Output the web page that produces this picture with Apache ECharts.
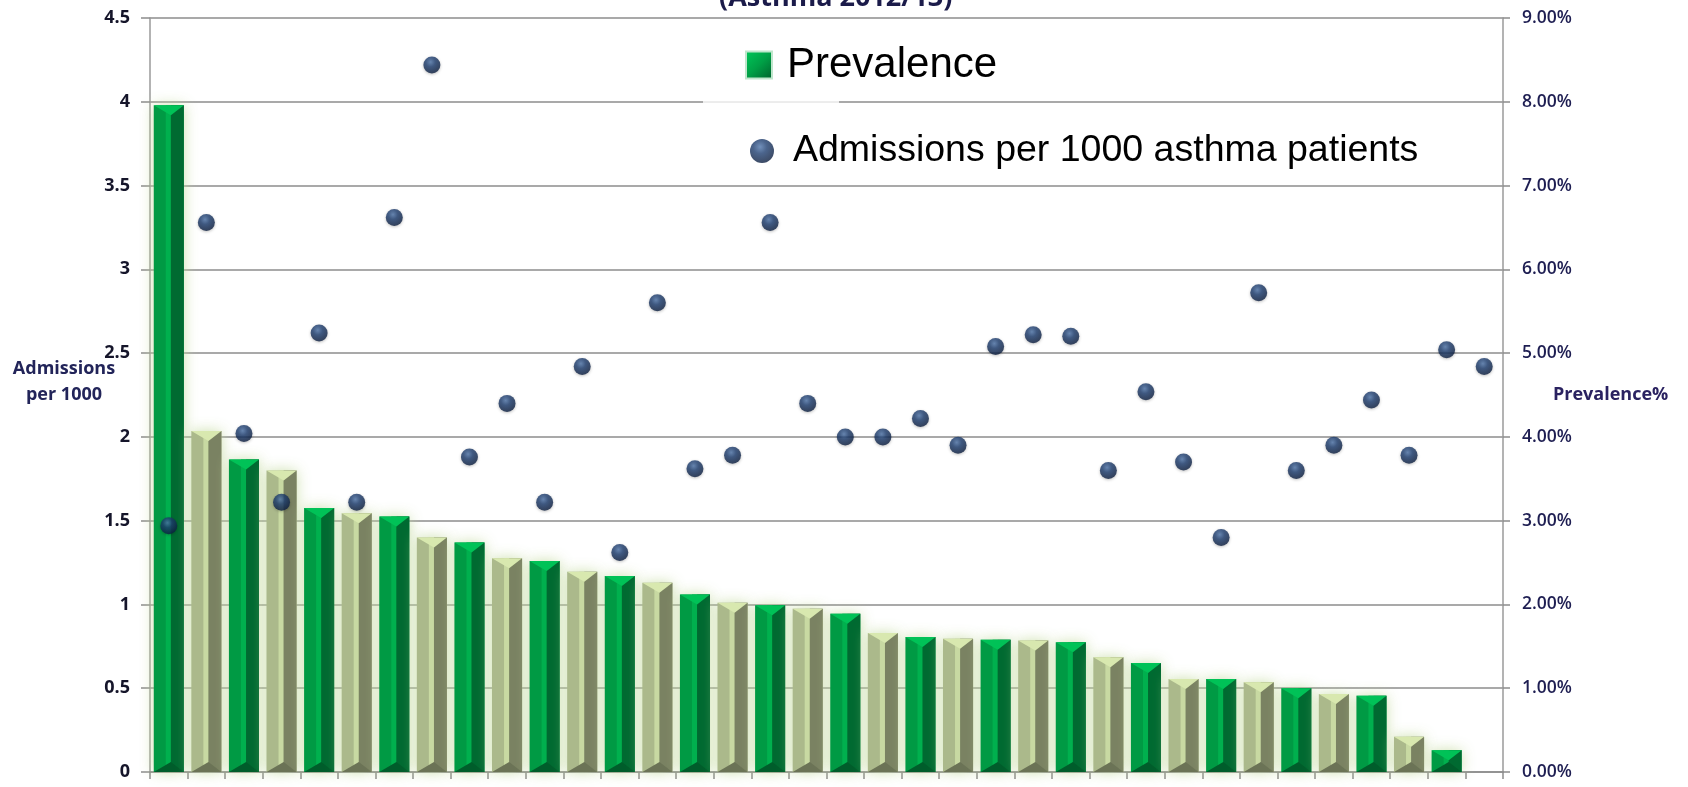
<!DOCTYPE html>
<html>
<head>
<meta charset="utf-8">
<title>Prevalence and admissions (Asthma 2012/13)</title>
<script src="https://cdn.jsdelivr.net/npm/echarts@6/dist/echarts.min.js"></script>
<style>
  html, body { margin: 0; padding: 0; background: #ffffff; }
  #chart { width: 1688px; height: 787px; }
</style>
</head>
<body>
<div id="chart"></div>
<script>
// Practices, ranked by asthma prevalence
const categories = [
  'Practice 1', 'Practice 2', 'Practice 3', 'Practice 4', 'Practice 5', 'Practice 6',
  'Practice 7', 'Practice 8', 'Practice 9', 'Practice 10', 'Practice 11', 'Practice 12',
  'Practice 13', 'Practice 14', 'Practice 15', 'Practice 16', 'Practice 17', 'Practice 18',
  'Practice 19', 'Practice 20', 'Practice 21', 'Practice 22', 'Practice 23', 'Practice 24',
  'Practice 25', 'Practice 26', 'Practice 27', 'Practice 28', 'Practice 29', 'Practice 30',
  'Practice 31', 'Practice 32', 'Practice 33', 'Practice 34', 'Practice 35', 'Practice 36'
];

// Asthma prevalence, % of list size (right axis)
const prevalence = [
  7.96, 4.07, 3.73, 3.60, 3.15, 3.09, 3.05, 2.80, 2.74, 2.55, 2.52, 2.39,
  2.34, 2.26, 2.12, 2.02, 1.99, 1.95, 1.89, 1.66, 1.61, 1.59, 1.58, 1.57,
  1.55, 1.37, 1.30, 1.11, 1.11, 1.07, 1.00, 0.93, 0.91, 0.42, 0.26, null
];

// Emergency admissions per 1000 asthma patients (left axis)
const admissions = [
  1.47, 3.28, 2.02, 1.61, 2.62, 1.61, 3.31, 4.22, 1.88, 2.20, 1.61, 2.42,
  1.31, 2.80, 1.81, 1.89, 3.28, 2.20, 2.00, 2.00, 2.11, 1.95, 2.54, 2.61,
  2.60, 1.80, 2.27, 1.85, 1.40, 2.86, 1.80, 1.95, 2.22, 1.89, 2.52, 2.42
];

// Axis tick labels
const leftTicks = ['0', '0.5', '1', '1.5', '2', '2.5', '3', '3.5', '4', '4.5'];
const rightTicks = ['0.00%', '1.00%', '2.00%', '3.00%', '4.00%', '5.00%', '6.00%', '7.00%', '8.00%', '9.00%'];

const FONT = "'Open Sans', 'DejaVu Sans', sans-serif";

// Bevelled bar faces, alternating green / pale olive
const FACES = [
  { left: '#009a44', stripe: '#00b04e', right: '#006a31', top: '#00c257', bottom: '#005d2b' },
  { left: '#abb98b', stripe: '#c8d9a2', right: '#7a8262', top: '#d8e8af', bottom: '#6b7356' }
];

function renderBevelBar(params, api) {
  const v = api.value(1);
  if (!isFinite(v) || v <= 0) return null;
  const i = api.value(0);
  const topPt = api.coord([i, v]);
  const basePt = api.coord([i, 0]);
  const w = api.size([1, 0])[0] * 0.8;
  const x0 = topPt[0] - w / 2;
  const x1 = topPt[0] + w / 2;
  const yt = topPt[1];
  const yb = basePt[1];
  const h = yb - yt;
  const d = Math.min(10, h / 2);
  const xa = x0 + w * 0.57;
  const xs = x0 + w * 0.40;
  const c = FACES[i % 2];
  return {
    type: 'group',
    children: [
      { type: 'rect', shape: { x: x0, y: yt, width: w, height: h },
        style: { fill: c.left, shadowBlur: 14, shadowColor: 'rgba(196,218,160,0.85)' } },
      { type: 'rect', shape: { x: xs, y: yt, width: xa - xs, height: h }, style: { fill: c.stripe } },
      { type: 'rect', shape: { x: xa, y: yt, width: x1 - xa, height: h }, style: { fill: c.right } },
      { type: 'polygon', shape: { points: [[x0, yt], [x1, yt], [xa, yt + d]] }, style: { fill: c.top } },
      { type: 'polygon', shape: { points: [[x0, yb], [x1, yb], [xa, yb - d]] }, style: { fill: c.bottom } }
    ]
  };
}

const sphere = {
  type: 'radial', x: 0.42, y: 0.33, r: 0.7,
  colorStops: [
    { offset: 0, color: '#4f75aa' },
    { offset: 0.4, color: '#1e3e70' },
    { offset: 1, color: '#0b1c3c' }
  ]
};

const chart = echarts.init(document.getElementById('chart'), null, { renderer: 'canvas' });

chart.setOption({
  backgroundColor: '#ffffff',
  animation: false,
  title: {
    text: '(Asthma 2012/13)',
    left: 719,
    top: -17,
    padding: 0,
    textStyle: { fontFamily: FONT, fontWeight: 'bold', fontSize: 27, lineHeight: 30, color: '#1b1b4a' }
  },
  grid: { left: 150, right: 185, top: 18, bottom: 15, containLabel: false, outerBoundsMode: 'none' },
  legend: [
    {
      data: [{ name: 'Prevalence', icon: 'rect',
        itemStyle: { color: { type: 'linear', x: 0, y: 0, x2: 1, y2: 1,
          colorStops: [{ offset: 0, color: '#00c95a' }, { offset: 0.5, color: '#00a046' }, { offset: 1, color: '#005f2b' }] },
          borderColor: '#bfe6cc', borderWidth: 2 } }],
      left: 745, top: 43, padding: 0, orient: 'vertical',
      itemWidth: 26, itemHeight: 27,
      selectedMode: false,
      textStyle: { fontFamily: "'Liberation Sans', Arial, sans-serif", fontSize: 42, lineHeight: 44, color: '#000000', padding: [0, 0, 0, 10] }
    },
    {
      data: [{ name: 'Admissions per 1000 asthma patients', icon: 'circle', itemStyle: { color: sphere } }],
      left: 750, top: 131, padding: 0, orient: 'vertical',
      itemWidth: 52, itemHeight: 24,
      selectedMode: false,
      textStyle: { fontFamily: "'Liberation Sans', Arial, sans-serif", fontSize: 37.5, lineHeight: 40, color: '#000000' }
    }
  ],
  graphic: [
    { type: 'rect', z: 5, shape: { x: 703, y: 99, width: 136, height: 6 }, style: { fill: '#ffffff' } },
    { type: 'line', z: 5, shape: { x1: 703, y1: 102, x2: 839, y2: 102 }, style: { stroke: '#dadada', lineWidth: 1 } }
  ],
  xAxis: {
    type: 'category',
    data: categories,
    boundaryGap: true,
    axisLine: { show: true, lineStyle: { color: '#8c8c8c', width: 1.5 } },
    axisTick: { show: true, interval: 0, alignWithLabel: false, length: 7, lineStyle: { color: '#8c8c8c', width: 1.5 } },
    axisLabel: { show: false, interval: 0 },
    splitLine: { show: false }
  },
  yAxis: [
    {
      type: 'value',
      min: 0, max: 4.5, interval: 0.5,
      position: 'left',
      name: 'Admissions\nper 1000\n ',
      nameLocation: 'middle',
      nameRotate: 0,
      nameGap: 86,
      nameMoveOverlap: false,
      nameTextStyle: { fontFamily: FONT, fontWeight: 'bold', fontSize: 18, lineHeight: 26, color: '#222459',
        align: 'center', verticalAlign: 'middle' },
      axisLine: { show: true, lineStyle: { color: '#9a9a9a', width: 1.5 } },
      axisTick: { show: true, length: 9, lineStyle: { color: '#8c8c8c', width: 1.5 } },
      axisLabel: {
        margin: 20, fontFamily: FONT, fontWeight: 'bold', fontSize: 18, color: '#15152a',
        formatter: (v) => leftTicks[Math.round(v / 0.5)]
      },
      splitLine: { show: true, lineStyle: { color: '#8c8c8c', width: 1.5 } }
    },
    {
      type: 'value',
      min: 0, max: 9, interval: 1,
      position: 'right',
      name: 'Prevalence%',
      nameLocation: 'middle',
      nameRotate: 0,
      nameGap: 50,
      nameMoveOverlap: false,
      nameTextStyle: { fontFamily: FONT, fontWeight: 'bold', fontSize: 18, color: '#2a2260',
        align: 'left', verticalAlign: 'middle' },
      axisLine: { show: true, lineStyle: { color: '#9a9a9a', width: 1.5 } },
      axisTick: { show: true, length: 7, lineStyle: { color: '#8c8c8c', width: 1.5 } },
      axisLabel: {
        margin: 19, fontFamily: FONT, fontWeight: 600, fontSize: 17.5, color: '#1e1e52',
        formatter: (v) => rightTicks[Math.round(v)]
      },
      splitLine: { show: false }
    }
  ],
  series: [
    {
      name: 'Prevalence',
      type: 'custom',
      xAxisIndex: 0,
      yAxisIndex: 1,
      z: 2,
      renderItem: renderBevelBar,
      itemStyle: { color: '#00a046' },
      encode: { x: 0, y: 1 },
      data: prevalence.map((v, i) => [i, v == null ? NaN : v])
    },
    {
      name: 'Admissions per 1000 asthma patients',
      type: 'scatter',
      xAxisIndex: 0,
      yAxisIndex: 0,
      z: 3,
      symbol: 'circle',
      symbolSize: 17,
      itemStyle: { color: sphere, shadowBlur: 3, shadowColor: 'rgba(0,0,0,0.3)', shadowOffsetY: 1 },
      data: admissions
    }
  ]
});
</script>
</body>
</html>
